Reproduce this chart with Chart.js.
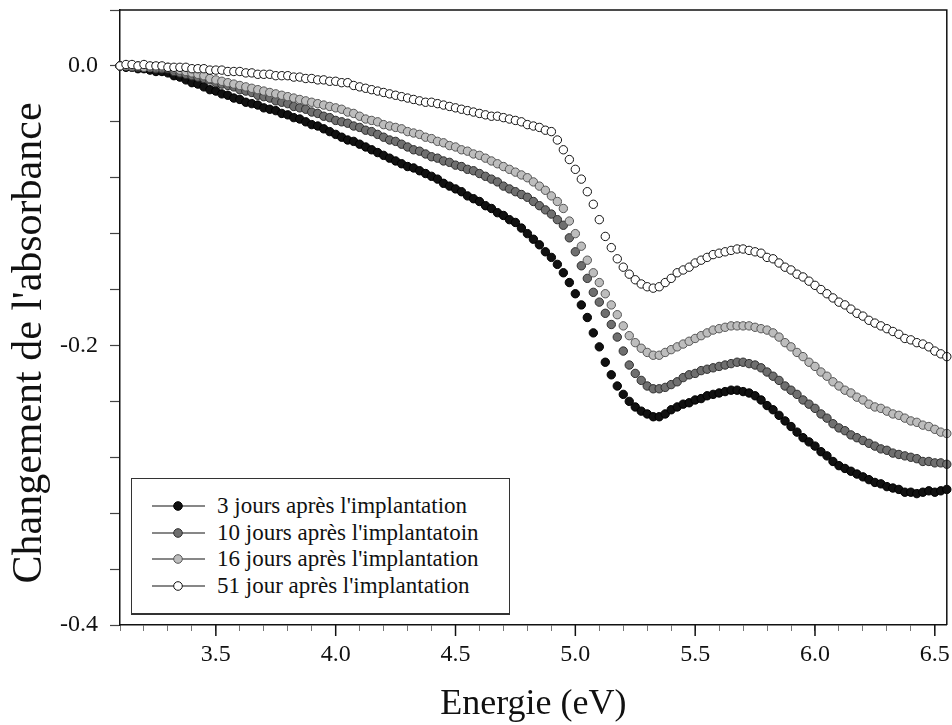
<!DOCTYPE html>
<html><head><meta charset="utf-8">
<script src="https://cdn.jsdelivr.net/npm/chart.js@4.4.1/dist/chart.umd.min.js"></script>
<style>
html,body{margin:0;padding:0;background:#fff;}
#wrap{position:relative;width:952px;height:725px;}
#legend{position:absolute;left:131px;top:478px;width:379px;height:137px;border:1px solid #333;border-bottom-width:2px;box-sizing:border-box;background:#fff;font-family:"Liberation Serif","Times New Roman",serif;font-size:23px;color:#111;}
.item{position:absolute;left:0;height:26px;width:375px;}
.item canvas{position:absolute;left:18px;top:6px;}
.item span{position:absolute;left:85px;top:0;line-height:26px;white-space:nowrap;}
</style>
</head><body>
<div id="wrap"><canvas id="c" width="952" height="725"></canvas><div id="legend"></div></div>
<script>
// Energie (eV)
const energies = [
3.100,3.125,3.150,3.175,3.200,3.225,3.250,3.275,3.300,3.325,
3.350,3.375,3.400,3.425,3.450,3.475,3.500,3.525,3.550,3.575,
3.600,3.625,3.650,3.675,3.700,3.725,3.750,3.775,3.800,3.825,
3.850,3.875,3.900,3.925,3.950,3.975,4.000,4.025,4.050,4.075,
4.100,4.125,4.150,4.175,4.200,4.225,4.250,4.275,4.300,4.325,
4.350,4.375,4.400,4.425,4.450,4.475,4.500,4.525,4.550,4.575,
4.600,4.625,4.650,4.675,4.700,4.725,4.750,4.775,4.800,4.825,
4.850,4.875,4.900,4.925,4.950,4.975,5.000,5.025,5.050,5.075,
5.100,5.125,5.150,5.175,5.200,5.225,5.250,5.275,5.300,5.325,
5.350,5.375,5.400,5.425,5.450,5.475,5.500,5.525,5.550,5.575,
5.600,5.625,5.650,5.675,5.700,5.725,5.750,5.775,5.800,5.825,
5.850,5.875,5.900,5.925,5.950,5.975,6.000,6.025,6.050,6.075,
6.100,6.125,6.150,6.175,6.200,6.225,6.250,6.275,6.300,6.325,
6.350,6.375,6.400,6.425,6.450,6.475,6.500,6.525,6.550];

const jours3 = [
0.000,-0.001,-0.001,-0.002,-0.002,-0.003,-0.004,-0.004,-0.005,-0.007,
-0.008,-0.010,-0.012,-0.013,-0.015,-0.017,-0.018,-0.020,-0.021,-0.023,
-0.024,-0.026,-0.027,-0.028,-0.030,-0.031,-0.032,-0.034,-0.035,-0.037,
-0.038,-0.040,-0.042,-0.043,-0.045,-0.047,-0.049,-0.051,-0.053,-0.054,
-0.056,-0.058,-0.060,-0.062,-0.064,-0.066,-0.068,-0.070,-0.072,-0.073,
-0.075,-0.077,-0.079,-0.081,-0.084,-0.086,-0.088,-0.090,-0.093,-0.095,
-0.097,-0.100,-0.102,-0.105,-0.107,-0.110,-0.112,-0.116,-0.120,-0.124,
-0.128,-0.133,-0.137,-0.142,-0.148,-0.155,-0.163,-0.171,-0.180,-0.191,
-0.201,-0.212,-0.221,-0.229,-0.235,-0.240,-0.244,-0.247,-0.249,-0.251,
-0.251,-0.249,-0.246,-0.244,-0.242,-0.241,-0.239,-0.238,-0.236,-0.235,
-0.234,-0.233,-0.232,-0.232,-0.233,-0.234,-0.236,-0.239,-0.243,-0.246,
-0.250,-0.254,-0.258,-0.262,-0.266,-0.269,-0.272,-0.276,-0.279,-0.283,
-0.286,-0.288,-0.290,-0.292,-0.294,-0.296,-0.298,-0.299,-0.301,-0.302,
-0.303,-0.305,-0.305,-0.306,-0.305,-0.304,-0.305,-0.304,-0.303];

const jours10 = [
0.000,0.000,-0.001,-0.001,-0.001,-0.001,-0.002,-0.002,-0.002,-0.004,
-0.005,-0.006,-0.007,-0.008,-0.009,-0.010,-0.012,-0.013,-0.014,-0.015,
-0.017,-0.018,-0.019,-0.021,-0.022,-0.023,-0.025,-0.026,-0.027,-0.029,
-0.030,-0.031,-0.033,-0.034,-0.036,-0.037,-0.039,-0.040,-0.041,-0.043,
-0.044,-0.046,-0.047,-0.049,-0.051,-0.053,-0.054,-0.056,-0.058,-0.060,
-0.061,-0.063,-0.065,-0.066,-0.068,-0.069,-0.071,-0.072,-0.074,-0.075,
-0.077,-0.079,-0.081,-0.083,-0.086,-0.088,-0.090,-0.092,-0.094,-0.097,
-0.100,-0.103,-0.106,-0.110,-0.114,-0.123,-0.133,-0.143,-0.152,-0.162,
-0.169,-0.177,-0.185,-0.194,-0.204,-0.214,-0.220,-0.225,-0.229,-0.231,
-0.231,-0.230,-0.228,-0.226,-0.223,-0.221,-0.220,-0.218,-0.217,-0.216,
-0.215,-0.214,-0.213,-0.212,-0.212,-0.213,-0.214,-0.216,-0.219,-0.222,
-0.225,-0.229,-0.232,-0.235,-0.239,-0.242,-0.245,-0.249,-0.252,-0.256,
-0.259,-0.261,-0.264,-0.266,-0.268,-0.270,-0.272,-0.274,-0.275,-0.277,
-0.278,-0.279,-0.280,-0.281,-0.283,-0.283,-0.284,-0.284,-0.285];

const jours16 = [
0.000,0.000,0.000,0.000,-0.001,-0.001,-0.001,-0.001,-0.001,-0.002,
-0.003,-0.004,-0.005,-0.006,-0.007,-0.009,-0.010,-0.011,-0.012,-0.013,
-0.014,-0.015,-0.016,-0.017,-0.018,-0.019,-0.020,-0.021,-0.022,-0.023,
-0.024,-0.025,-0.026,-0.027,-0.028,-0.029,-0.030,-0.031,-0.033,-0.034,
-0.036,-0.038,-0.039,-0.040,-0.042,-0.043,-0.044,-0.045,-0.047,-0.048,
-0.049,-0.051,-0.052,-0.054,-0.055,-0.057,-0.058,-0.060,-0.061,-0.063,
-0.064,-0.066,-0.068,-0.070,-0.072,-0.074,-0.076,-0.078,-0.080,-0.083,
-0.086,-0.089,-0.093,-0.097,-0.102,-0.111,-0.120,-0.129,-0.139,-0.148,
-0.155,-0.163,-0.171,-0.178,-0.186,-0.193,-0.198,-0.202,-0.205,-0.207,
-0.207,-0.205,-0.203,-0.201,-0.199,-0.197,-0.195,-0.193,-0.191,-0.189,
-0.188,-0.187,-0.186,-0.186,-0.186,-0.186,-0.187,-0.188,-0.189,-0.191,
-0.194,-0.198,-0.201,-0.205,-0.208,-0.212,-0.215,-0.219,-0.222,-0.226,
-0.229,-0.232,-0.234,-0.237,-0.239,-0.242,-0.244,-0.245,-0.247,-0.249,
-0.250,-0.252,-0.254,-0.255,-0.257,-0.258,-0.260,-0.262,-0.263];

const jour51 = [
0.000,0.001,0.001,0.000,0.001,0.000,0.000,0.000,-0.001,-0.001,
-0.001,-0.001,-0.002,-0.002,-0.002,-0.003,-0.003,-0.003,-0.004,-0.004,
-0.004,-0.005,-0.005,-0.006,-0.006,-0.006,-0.007,-0.007,-0.007,-0.008,
-0.008,-0.009,-0.009,-0.010,-0.010,-0.011,-0.011,-0.012,-0.012,-0.014,
-0.015,-0.016,-0.017,-0.018,-0.019,-0.020,-0.021,-0.022,-0.023,-0.024,
-0.025,-0.026,-0.026,-0.027,-0.028,-0.029,-0.030,-0.031,-0.032,-0.033,
-0.034,-0.035,-0.036,-0.036,-0.037,-0.038,-0.039,-0.040,-0.042,-0.043,
-0.044,-0.046,-0.047,-0.053,-0.060,-0.067,-0.074,-0.081,-0.090,-0.099,
-0.110,-0.122,-0.130,-0.138,-0.144,-0.149,-0.153,-0.156,-0.158,-0.159,
-0.158,-0.155,-0.152,-0.148,-0.146,-0.144,-0.141,-0.139,-0.137,-0.135,
-0.134,-0.133,-0.132,-0.131,-0.131,-0.132,-0.133,-0.134,-0.137,-0.138,
-0.141,-0.144,-0.146,-0.149,-0.151,-0.154,-0.157,-0.160,-0.163,-0.166,
-0.169,-0.171,-0.174,-0.177,-0.179,-0.182,-0.184,-0.186,-0.188,-0.190,
-0.192,-0.195,-0.196,-0.198,-0.199,-0.201,-0.204,-0.206,-0.208];

const seriesLabels = [
  "3 jours après l'implantation",
  "10 jours après l'implantatoin",
  "16 jours après l'implantation",
  "51 jour après l'implantation"
];
const seriesValues = [jours3, jours10, jours16, jour51];

const xMajorLabels = [3.5, 4.0, 4.5, 5.0, 5.5, 6.0, 6.5];
const yMajorLabels = [0.0, -0.2, -0.4];
const xTitle = 'Energie (eV)';
const yTitle = "Changement de l'absorbance";

// styles
const fills = ['#111111', '#6f6f6f', '#bdbdbd', '#ffffff'];
const borders = ['#000000', '#2e2e2e', '#555555', '#111111'];
const drawOrder = [3, 2, 1, 0];
const FONT = '"Liberation Serif", "Times New Roman", serif';

const datasets = seriesValues.map((vals, k) => ({
  label: seriesLabels[k],
  data: energies.map((e, i) => ({x: e, y: vals[i]})),
  showLine: false,
  pointRadius: 4.2,
  pointBorderWidth: 1,
  pointBackgroundColor: fills[k],
  pointBorderColor: borders[k],
  order: drawOrder[k],
  clip: false
}));

const isMajor = (v, list) => list.some(m => Math.abs(m - v) < 1e-6);

const framePlugin = {
  id: 'frame',
  afterDraw(c) {
    const {ctx, chartArea: a} = c;
    ctx.save();
    ctx.strokeStyle = '#111';
    ctx.lineWidth = 1.5;
    ctx.beginPath();
    ctx.moveTo(a.left, a.top);
    ctx.lineTo(a.right, a.top);
    ctx.lineTo(a.right, a.bottom);
    ctx.stroke();
    // longer major ticks on the x axis
    const xs = c.scales.x;
    xMajorLabels.forEach(v => {
      const px = xs.getPixelForValue(v);
      ctx.beginPath();
      ctx.moveTo(px, a.bottom);
      ctx.lineTo(px, a.bottom + 11);
      ctx.stroke();
    });
    // y axis title
    ctx.fillStyle = '#111';
    ctx.font = '42px ' + FONT;
    ctx.textAlign = 'center';
    ctx.textBaseline = 'alphabetic';
    ctx.translate(41, 343);
    ctx.rotate(-Math.PI / 2);
    ctx.fillText(yTitle, 0, 0);
    ctx.restore();
  }
};

const chart = new Chart(document.getElementById('c'), {
  type: 'scatter',
  data: {datasets},
  options: {
    responsive: false,
    animation: false,
    layout: {padding: {top: 10, right: 5, left: 0, bottom: 0}},
    plugins: {legend: {display: false}, tooltip: {enabled: false}},
    scales: {
      x: {
        type: 'linear', min: 3.1, max: 6.55,
        afterFit(s) { s.height = 100; s.paddingLeft = 0; s.paddingRight = 0; },
        ticks: {
          stepSize: 0.1, autoSkip: false, maxRotation: 0, padding: 9, includeBounds: false,
          color: '#111', font: {family: FONT, size: 24},
          callback: v => isMajor(v, xMajorLabels) ? v.toFixed(1) : ''
        },
        grid: {drawOnChartArea: false, drawTicks: true, tickLength: 6, tickColor: '#777', tickWidth: 1},
        border: {display: true, color: '#111', width: 1.5},
        title: {display: true, text: xTitle, color: '#111',
          font: {family: FONT, size: 36, lineHeight: 1}, padding: {top: 0, bottom: 2}}
      },
      y: {
        type: 'linear', min: -0.4, max: 0.04,
        afterFit(s) { s.width = 120; s.paddingTop = 0; s.paddingBottom = 0; },
        ticks: {
          stepSize: 0.04, autoSkip: false, padding: 12,
          color: '#111', font: {family: FONT, size: 24},
          callback: v => isMajor(v, yMajorLabels) ? (Math.round(v * 5) / 5).toFixed(1) : ''
        },
        grid: {drawOnChartArea: false, drawTicks: true, tickLength: 10, tickColor: '#444', tickWidth: 1.2},
        border: {display: true, color: '#111', width: 1.5}
      }
    }
  },
  plugins: [framePlugin]
});

// legend built from the chart's datasets
const legendEl = document.getElementById('legend');
chart.data.datasets.forEach((ds, k) => {
  const item = document.createElement('div');
  item.className = 'item';
  item.style.top = (14 + k * 26.7) + 'px';
  const cv = document.createElement('canvas');
  cv.width = 58; cv.height = 14;
  const g = cv.getContext('2d');
  g.strokeStyle = '#111'; g.lineWidth = 1.2;
  g.beginPath(); g.moveTo(2, 7); g.lineTo(55, 7); g.stroke();
  g.beginPath(); g.arc(28, 7, 4.3, 0, Math.PI * 2);
  g.fillStyle = ds.pointBackgroundColor; g.fill();
  g.strokeStyle = ds.pointBorderColor; g.lineWidth = 1; g.stroke();
  const sp = document.createElement('span');
  sp.textContent = ds.label;
  item.appendChild(cv); item.appendChild(sp);
  legendEl.appendChild(item);
});
</script>
</body></html>
